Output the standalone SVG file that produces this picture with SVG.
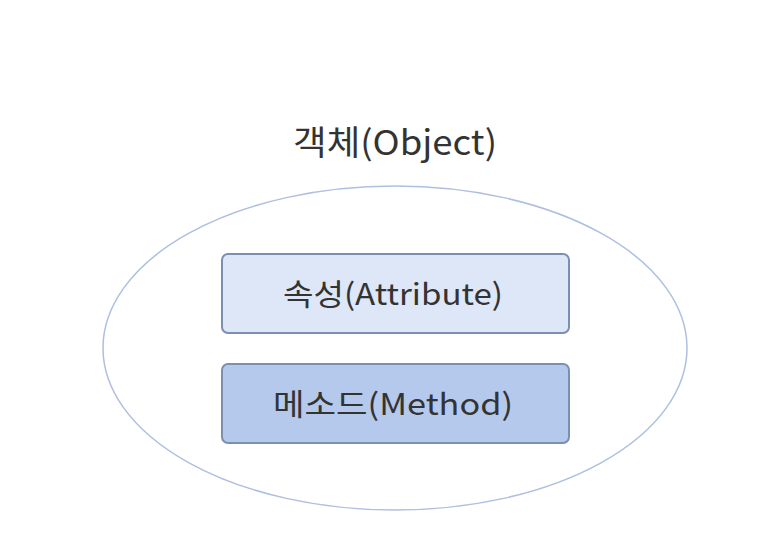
<svg xmlns="http://www.w3.org/2000/svg" width="772" height="550" viewBox="0 0 772 550">
<style>
text{font-family:"Noto Sans CJK KR","Noto Sans",sans-serif;fill:#333;text-anchor:middle}
.box{stroke:#7d8fb0;stroke-width:2}
</style>
<rect width="772" height="550" fill="#fff"/>
<g id="object">
<ellipse cx="395" cy="348" rx="292" ry="162" fill="none" stroke="#aebfe0" stroke-width="1.5"/>
<text x="395" y="155" font-size="34" textLength="204" lengthAdjust="spacingAndGlyphs">객체(Object)</text>
</g>
<g id="attribute">
<rect class="box" x="222" y="254" width="347" height="79" rx="6" fill="#dde7f8"/>
<text x="393" y="305" font-size="30" textLength="220" lengthAdjust="spacingAndGlyphs">속성(Attribute)</text>
</g>
<g id="method">
<rect class="box" x="222" y="364" width="347" height="79" rx="6" fill="#b5c9ec"/>
<text x="393" y="415" font-size="30" textLength="240" lengthAdjust="spacingAndGlyphs">메소드(Method)</text>
</g>
<g id="connectors"/>
</svg>
